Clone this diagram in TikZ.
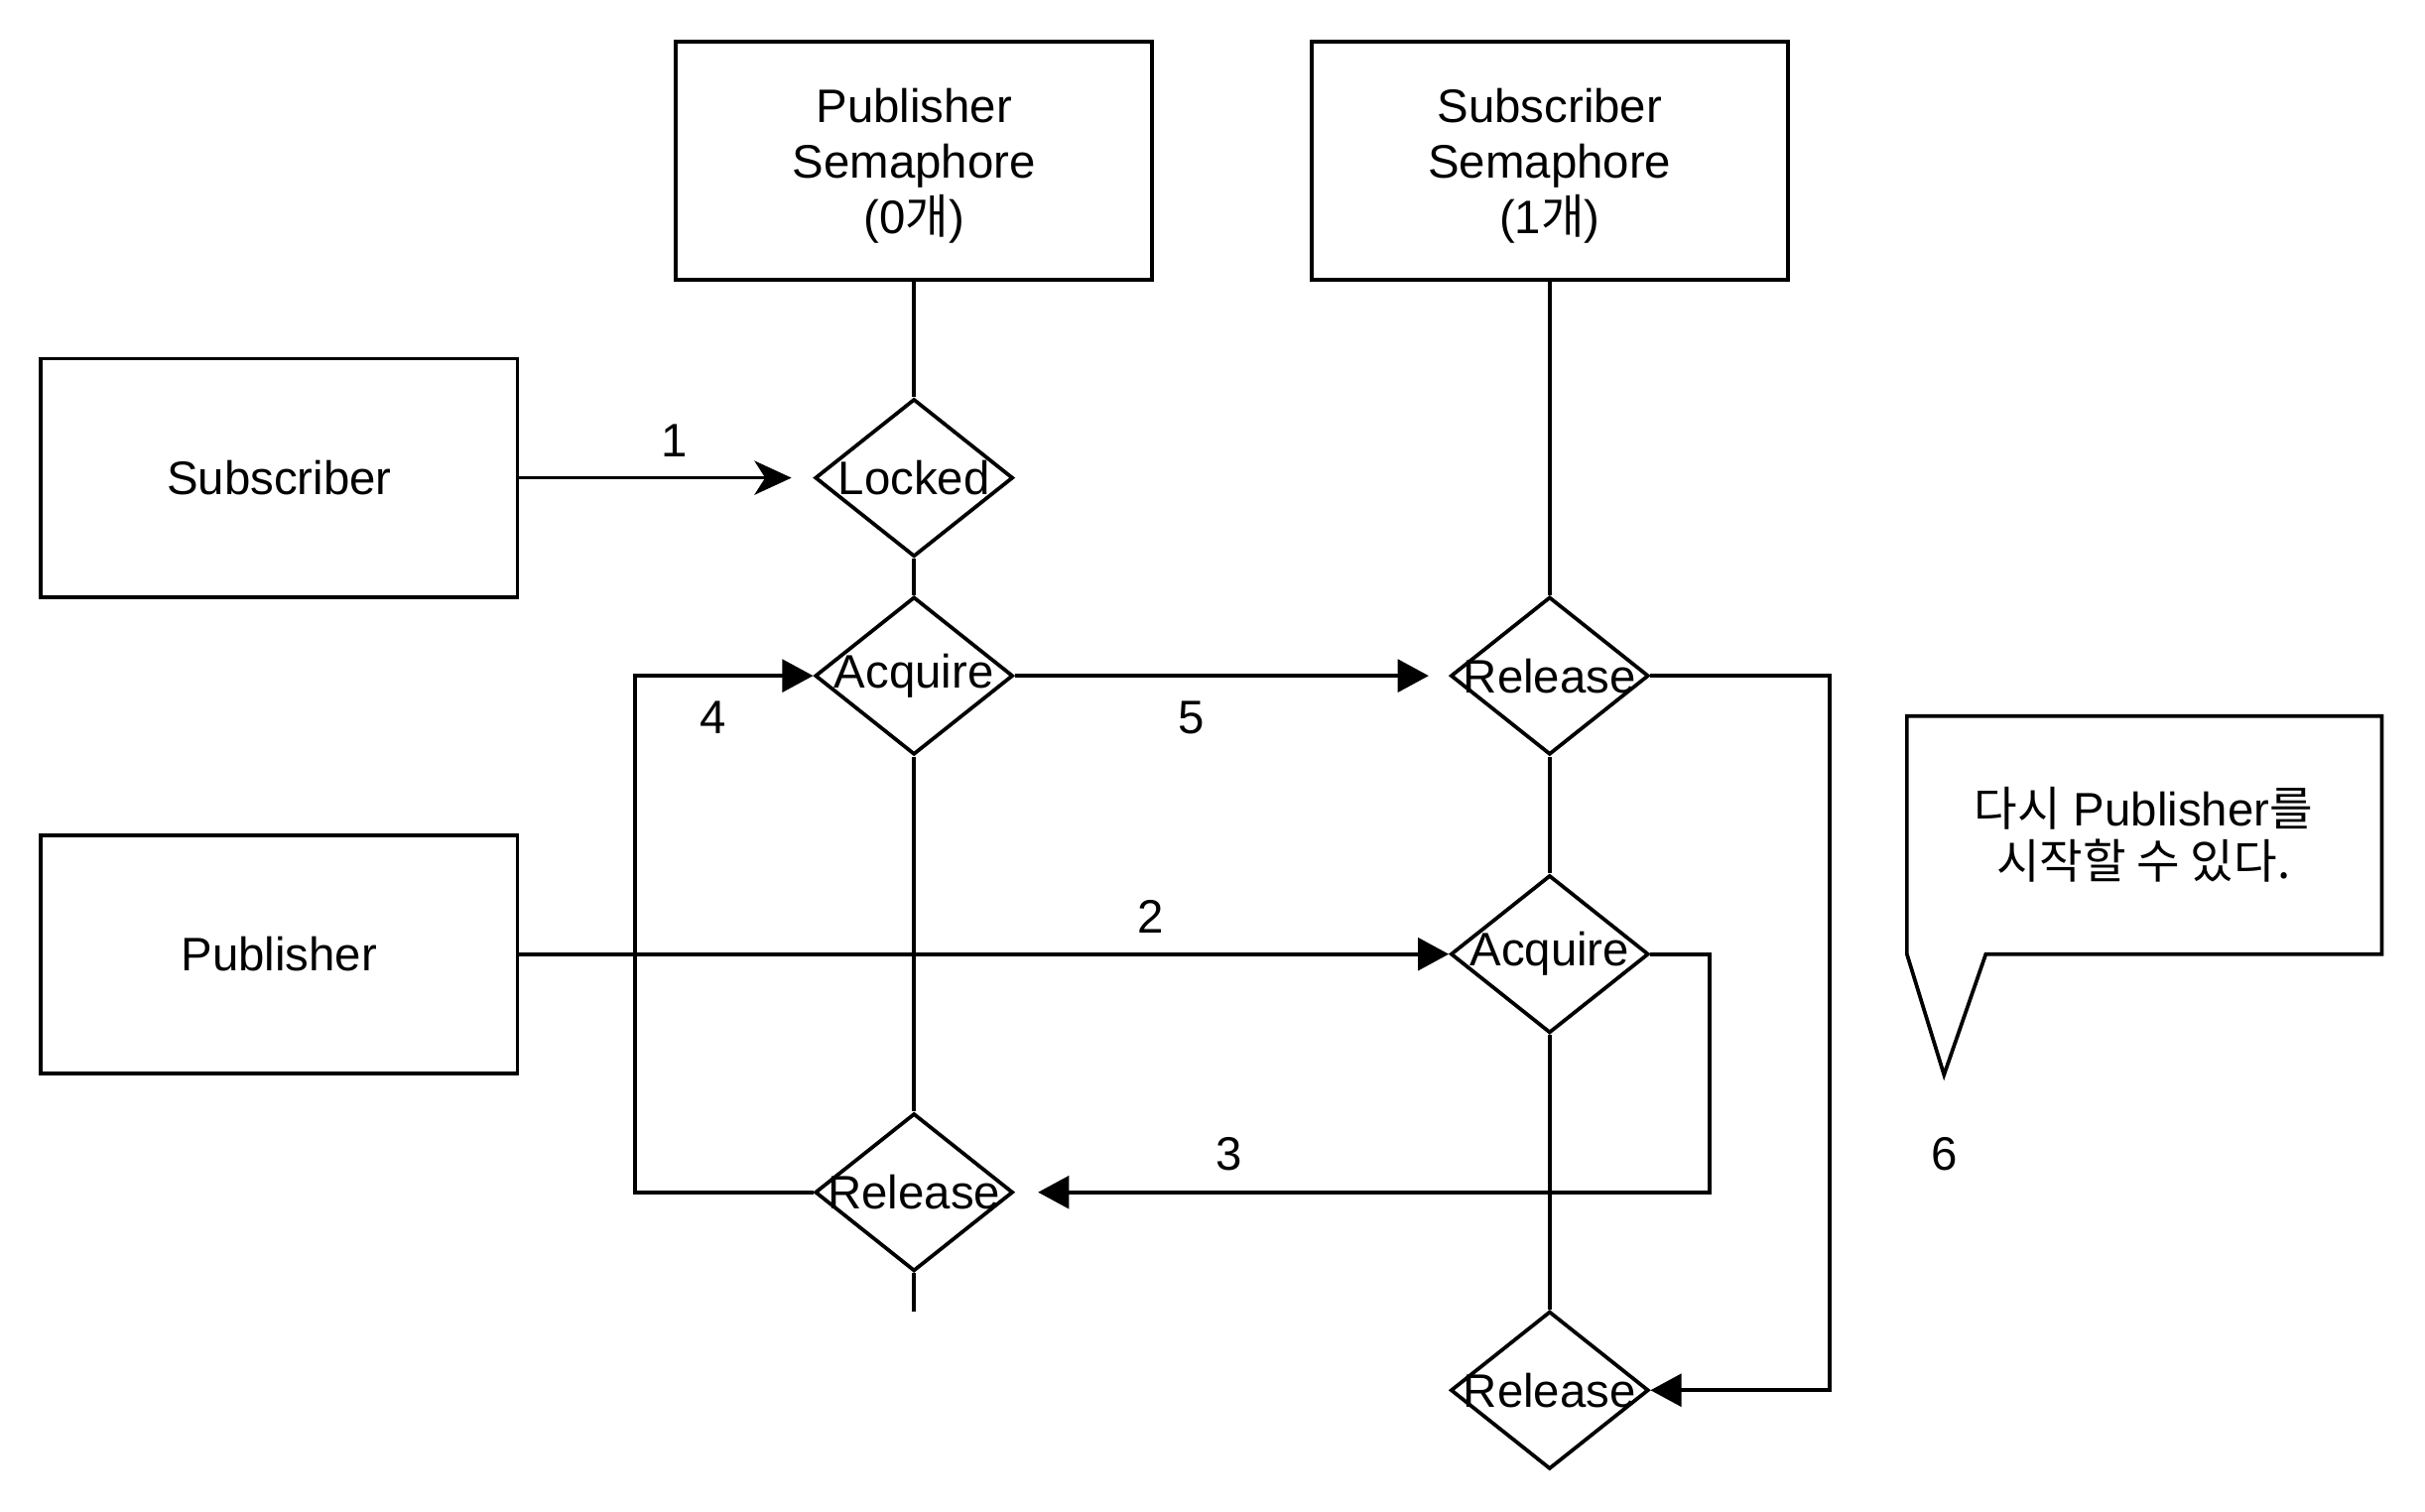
\documentclass[tikz,border=0pt]{standalone}
\usepackage{fontspec}
\setmainfont{Liberation Sans}
\newfontfamily\kr{Noto Sans CJK KR}
\usetikzlibrary{shapes.geometric,arrows.meta}
\begin{document}
\begin{tikzpicture}[x=0.5pt,y=-0.5pt, line width=1.2pt,
  every node/.style={font=\fontsize{15.2}{18}\selectfont},
  box/.style={draw, minimum width=154pt, minimum height=77pt, inner sep=0pt, align=center},
  dia/.style={draw, diamond, minimum width=64pt, minimum height=51pt, inner sep=0pt},
  conn/.style={-{Triangle[length=10pt,width=10.5pt]}},
  classic/.style={-{Stealth[length=12pt,width=11pt,inset=3.5pt]}},
  lbl/.style={inner sep=0pt}]
\useasboundingbox (0,0) rectangle (1568,977.7);
% boxes
\node[box, label={[align=center, yshift=-1.6pt]center:Publisher\\Semaphore\\(0{\kr 개})}] (psem) at (591,104) {};
\node[box, label={[align=center, yshift=-1.6pt]center:Subscriber\\Semaphore\\(1{\kr 개})}] (ssem) at (1002,104) {};
\node[box] (sub) at (180.5,309) {Subscriber};
\node[box] (pub) at (180.5,617) {Publisher};
% diamonds
\node[dia, label=center:Locked] (lock) at (591,309) {};
\node[dia, label=center:Acquire] (acq1) at (591,437) {};
\node[dia, label=center:Release] (rel1) at (591,771) {};
\node[dia, label=center:Release] (rel2) at (1002,437) {};
\node[dia, label=center:Acquire] (acq2) at (1002,617) {};
\node[dia, label=center:Release] (rel3) at (1002,899) {};
\coordinate (rel1end) at (591,848);
% plain lines
\draw (psem.south) -- (lock.north);
\draw (lock.south) -- (acq1.north);
\draw (acq1.south) -- (rel1.north);
\draw (rel1.south) -- (rel1end);
\draw (ssem.south) -- (rel2.north);
\draw (rel2.south) -- (acq2.north);
\draw (acq2.south) -- (rel3.north);
% arrows
\draw[classic, shorten >=7pt] (sub.east) -- (lock.west);
\draw[conn] (pub.east) -- (acq2.west);
\draw[conn, shorten >=7.5pt] (acq2.east) -- ++(38,0) |- (rel1.east);
\draw[conn] (rel1.west) -- ++(-115,0) |- (acq1.west);
\draw[conn, shorten >=6.5pt] (acq1.east) -- (rel2.west);
\draw[conn] (rel2.east) -- ++(116,0) |- (rel3.east);
% labels
\node[lbl] (l1) at (436,285) {1};
\node[lbl] (l2) at (744,593) {2};
\node[lbl] (l3) at (795,746) {3};
\node[lbl] (l4) at (461,464) {4};
\node[lbl] (l5) at (770,464) {5};
\node[lbl] (l6) at (1257,746) {6};
% callout
\draw (1233,463) -- (1540,463) -- (1540,617) -- (1284,617) -- (1257,695) -- (1233,617) -- cycle;
\node[align=center, font=\fontsize{15.2}{17}\selectfont] (note) at (1386,540) {{\kr 다시} Publisher{\kr 를}\\{\kr 시작할 수 있다.}};
\end{tikzpicture}
\end{document}
